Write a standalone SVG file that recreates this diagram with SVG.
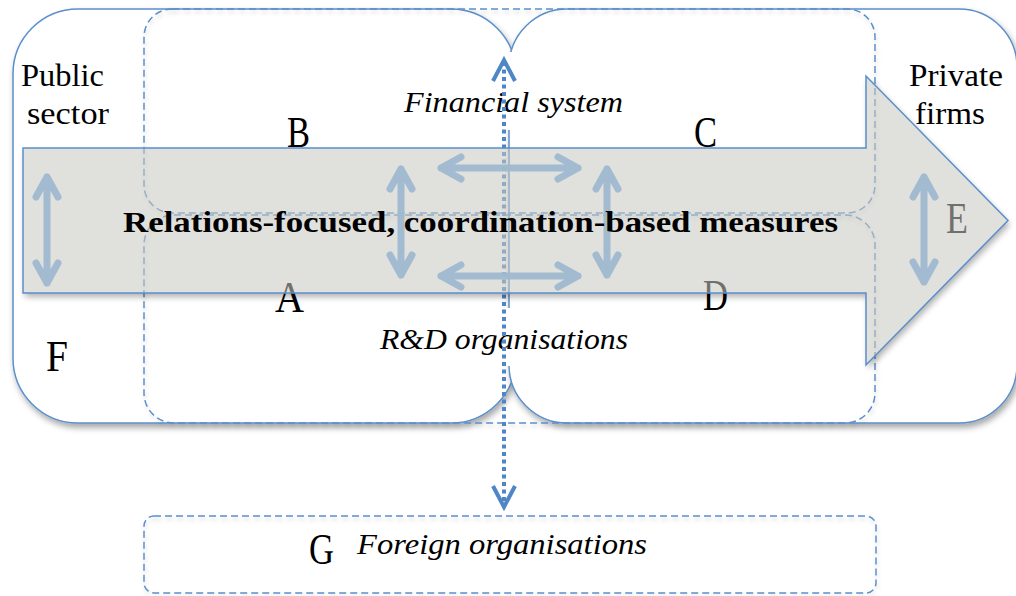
<svg xmlns="http://www.w3.org/2000/svg" width="1016" height="596" viewBox="0 0 1016 596">
  <style>
    .outer { fill: #ffffff; stroke: #5b8fcb; stroke-width: 1.5; }
    .dash { fill: none; stroke: #5b8fcb; stroke-width: 1.5; stroke-dasharray: 7 4; }
    .lbl { font-family: "Liberation Serif", "Times New Roman", serif; font-size: 32px; fill: #000; }
    .it { font-family: "Liberation Serif", "Times New Roman", serif; font-size: 29px; font-style: italic; fill: #000; }
    .let { font-family: "Liberation Serif", "Times New Roman", serif; font-size: 45px; fill: #000; }
    .main { font-family: "Liberation Serif", "Times New Roman", serif; font-size: 30px; font-weight: bold; fill: #000; }
    .sa { fill: none; stroke: #9fb8cf; stroke-width: 7; stroke-linecap: round; stroke-linejoin: round; opacity: 0.95; }
    .dot { fill: none; stroke: #4f86c6; stroke-width: 4; stroke-dasharray: 4 3.5; }
    .head { fill: none; stroke: #4f86c6; stroke-width: 4; stroke-linejoin: miter; }
  </style>
  <defs>
    <filter id="sh" x="-5%" y="-5%" width="110%" height="115%">
      <feDropShadow dx="2" dy="4" stdDeviation="3" flood-color="#000" flood-opacity="0.35"/>
    </filter>
    <filter id="shl" x="-5%" y="-10%" width="110%" height="130%">
      <feDropShadow dx="1" dy="3" stdDeviation="2" flood-color="#000" flood-opacity="0.18"/>
    </filter>
    <filter id="blur" x="-10%" y="-10%" width="120%" height="120%">
      <feGaussianBlur stdDeviation="3"/>
    </filter>
    <mask id="outside">
      <rect x="0" y="0" width="1016" height="596" fill="#fff"/>
      <path d="M23,148 H866 V76 L1008,220.5 L866,365 V293 H23 Z" fill="#000"/>
    </mask>
  </defs>

  <g id="public-sector" filter="url(#sh)">
    <rect class="outer" x="13" y="9" width="503" height="414" rx="65"/>
  </g>
  <g id="private-firms" filter="url(#sh)">
    <rect class="outer" x="509" y="9" width="508" height="414" rx="58"/>
  </g>

  <!-- text backgrounds -->
  <rect x="398" y="52" width="234" height="78" fill="#ffffff"/>
  <rect x="376" y="308" width="256" height="58" fill="#ffffff"/>

  <g id="financial-system" filter="url(#shl)">
    <rect class="dash" x="144" y="9" width="731" height="204" rx="28"/>
  </g>
  <g id="rd-organisations" filter="url(#shl)">
    <rect class="dash" x="144" y="215" width="731" height="208" rx="30"/>
  </g>
  <g id="foreign-organisations" filter="url(#shl)">
    <rect class="dash" x="144" y="516" width="732" height="77" rx="10"/>
  </g>

  <g id="labels">
    <text class="lbl" x="21" y="86" textLength="83" lengthAdjust="spacingAndGlyphs">Public</text>
    <text class="lbl" x="27" y="124" textLength="82" lengthAdjust="spacingAndGlyphs">sector</text>
    <text class="lbl" x="909" y="86" textLength="94" lengthAdjust="spacingAndGlyphs">Private</text>
    <text class="lbl" x="915" y="124" textLength="70" lengthAdjust="spacingAndGlyphs">firms</text>
    <text class="it" x="404" y="112" textLength="219" lengthAdjust="spacingAndGlyphs">Financial system</text>
    <text class="it" x="380" y="349" textLength="248" lengthAdjust="spacingAndGlyphs">R&amp;D organisations</text>
    <text class="it" x="357" y="554" textLength="290" lengthAdjust="spacingAndGlyphs">Foreign organisations</text>
    <text class="let" x="287" y="147" textLength="23" lengthAdjust="spacingAndGlyphs">B</text>
    <text class="let" x="694" y="147" textLength="23" lengthAdjust="spacingAndGlyphs">C</text>
    <text class="let" x="275" y="312" textLength="29" lengthAdjust="spacingAndGlyphs">A</text>
    <text class="let" x="703" y="310" textLength="25" lengthAdjust="spacingAndGlyphs">D</text>
    <text class="let" x="46" y="371" textLength="22" lengthAdjust="spacingAndGlyphs">F</text>
    <text class="let" x="946" y="233" textLength="22" lengthAdjust="spacingAndGlyphs">E</text>
    <text class="let" x="309" y="564" textLength="25" lengthAdjust="spacingAndGlyphs">G</text>
  </g>

  <g id="connectors">
    <g id="dotted-link">
      <line class="dot" x1="504" y1="62" x2="504" y2="505"/>
      <polyline class="head" points="493,81 504,60 515,81"/>
      <polyline class="head" points="493,486 504,507 515,486"/>
    </g>
  </g>

  <g id="main-arrow">
    <path d="M25,152 H868 V80 L1010,224.5 L868,369 V297 H25 Z" fill="#000" opacity="0.3" filter="url(#blur)" mask="url(#outside)"/>
    <path d="M23,148 H866 V76 L1008,220.5 L866,365 V293 H23 Z" fill="rgb(199,199,192)" fill-opacity="0.56" stroke="#5b8fcb" stroke-width="1.5"/>
  </g>

  <g id="small-arrows">
    <path class="sa" d="M47,177 V283 M36,197 L47,177 L58,197 M36,263 L47,283 L58,263"/>
    <path class="sa" d="M401,169 V275 M390,189 L401,169 L412,189 M390,255 L401,275 L412,255"/>
    <path class="sa" d="M607,169 V275 M596,189 L607,169 L618,189 M596,255 L607,275 L618,255"/>
    <path class="sa" d="M924,177 V282 M913,197 L924,177 L935,197 M913,262 L924,282 L935,262"/>
    <path class="sa" d="M441,168 H578 M461,157 L441,168 L461,179 M558,157 L578,168 L558,179"/>
    <path class="sa" d="M441,276 H578 M461,265 L441,276 L461,287 M558,265 L578,276 L558,287"/>
  </g>

  <text class="main" x="123" y="232" textLength="715" lengthAdjust="spacingAndGlyphs">Relations-focused, coordination-based measures</text>
</svg>
